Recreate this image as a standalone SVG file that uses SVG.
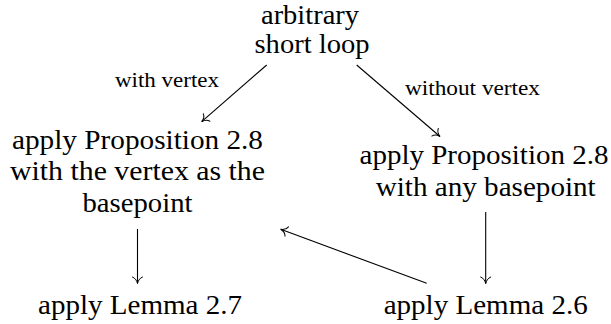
<svg xmlns="http://www.w3.org/2000/svg" width="611" height="324" viewBox="0 0 611 324">
  <style>
    text { font-family: "Liberation Serif", "Times New Roman", serif; fill: #000; text-anchor: middle; }
    .t { font-size: 27px; }
    .lbl { font-size: 20px; }
    .edge { stroke: #000; stroke-width: 1.1; fill: none; marker-end: url(#to); }
  </style>
  <defs>
    <!-- curved open "to" arrowhead, tip at the origin -->
    <marker id="to" viewBox="-8 -6 10 12" refX="0" refY="0" markerWidth="10" markerHeight="12" markerUnits="userSpaceOnUse" orient="auto">
      <path d="M -6.5,-5 C -5.5,-2 -2,-0.4 0,0 C -2,0.4 -5.5,2 -6.5,5" fill="none" stroke="#000" stroke-width="1" stroke-linecap="round"/>
    </marker>
  </defs>

  <g id="connectors">
    <line class="edge" x1="266.7" y1="65" x2="201.7" y2="121.7"/>
    <line class="edge" x1="356.7" y1="65" x2="440" y2="136.5"/>
    <line class="edge" x1="137.5" y1="229" x2="137.5" y2="283.5"/>
    <line class="edge" x1="485.7" y1="212" x2="485.7" y2="283.5"/>
    <line class="edge" x1="426.7" y1="283.3" x2="280.7" y2="229.3"/>
    <text class="lbl" x="167" y="87" textLength="104" lengthAdjust="spacingAndGlyphs">with vertex</text>
    <text class="lbl" x="472.5" y="94.5" textLength="135" lengthAdjust="spacingAndGlyphs">without vertex</text>
  </g>

  <g id="start">
    <text class="t" x="310" y="24" textLength="98" lengthAdjust="spacingAndGlyphs">arbitrary</text>
    <text class="t" x="312" y="53" textLength="115" lengthAdjust="spacingAndGlyphs">short loop</text>
  </g>

  <g id="prop-vertex">
    <text class="t" x="137.5" y="148.5" textLength="251" lengthAdjust="spacingAndGlyphs">apply Proposition 2.8</text>
    <text class="t" x="137.5" y="180.2" textLength="255" lengthAdjust="spacingAndGlyphs">with the vertex as the</text>
    <text class="t" x="137.5" y="211.9" textLength="110" lengthAdjust="spacingAndGlyphs">basepoint</text>
  </g>

  <g id="prop-any">
    <text class="t" x="484" y="164.3" textLength="249" lengthAdjust="spacingAndGlyphs">apply Proposition 2.8</text>
    <text class="t" x="485.7" y="196" textLength="220" lengthAdjust="spacingAndGlyphs">with any basepoint</text>
  </g>

  <g id="lemma-27">
    <text class="t" x="140" y="314" textLength="204" lengthAdjust="spacingAndGlyphs">apply Lemma 2.7</text>
  </g>

  <g id="lemma-26">
    <text class="t" x="485.7" y="314" textLength="204" lengthAdjust="spacingAndGlyphs">apply Lemma 2.6</text>
  </g>
</svg>
